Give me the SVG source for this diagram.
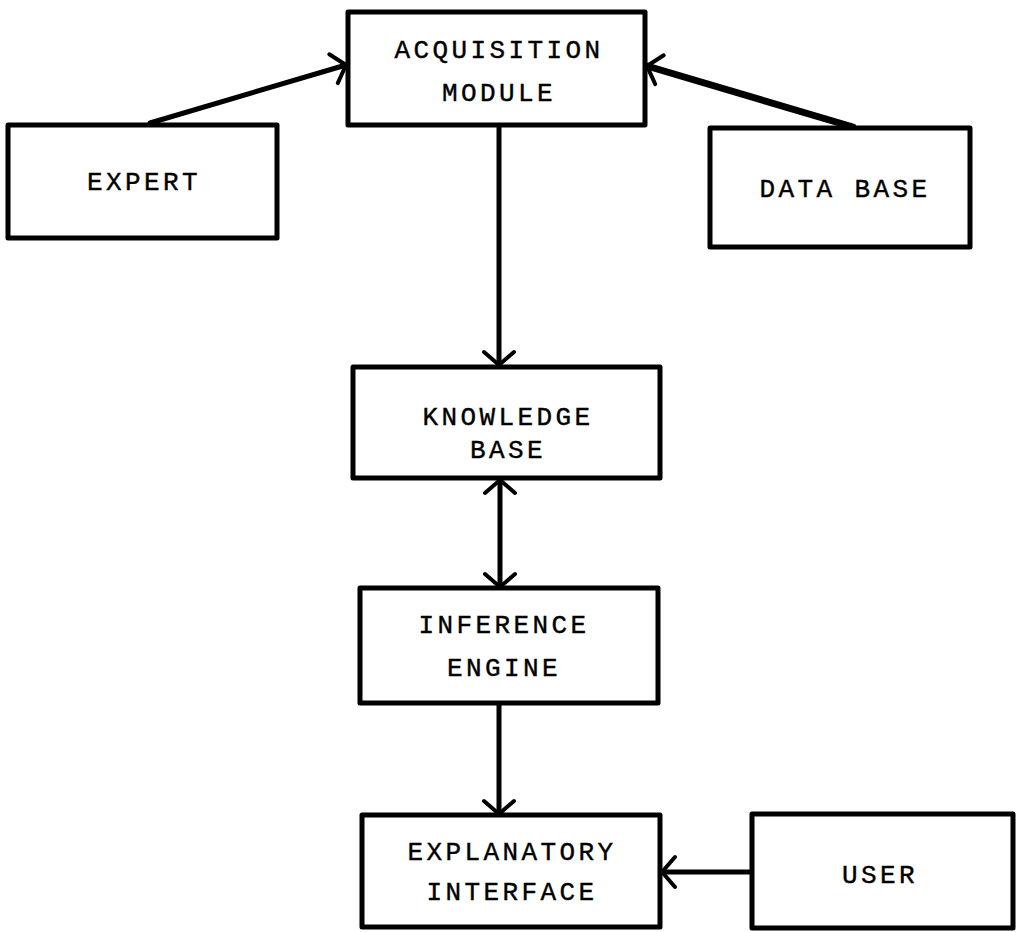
<svg xmlns="http://www.w3.org/2000/svg" width="1016" height="932" viewBox="0 0 1016 932">
<defs>
<style>
.box{fill:#fff;stroke:#000;stroke-width:5;stroke-linejoin:round}
.lbl{font-family:"Liberation Mono","Courier New",monospace;font-size:26px;letter-spacing:3.4px;text-anchor:middle;fill:#000;stroke:#000;stroke-width:0.4}
.con{stroke:#000;stroke-width:5;fill:none;stroke-linecap:round}
</style>
<marker id="ah" viewBox="-18 -18 22 36" refX="0" refY="0" markerWidth="22" markerHeight="36" markerUnits="userSpaceOnUse" orient="auto-start-reverse">
<path d="M-13,-15 L0,0 L-13,15" fill="none" stroke="#000" stroke-width="4" stroke-linecap="round" stroke-linejoin="round"/>
</marker>
</defs>
<rect width="1016" height="932" fill="#fff"/>
<g id="connectors">
<line class="con" x1="150" y1="123" x2="346" y2="65" marker-end="url(#ah)"/>
<line class="con" style="stroke-width:7" x1="853" y1="127" x2="647" y2="66" marker-end="url(#ah)"/>
<line class="con" x1="499" y1="125" x2="499" y2="365" marker-end="url(#ah)"/>
<line class="con" x1="500" y1="480" x2="500" y2="587" marker-start="url(#ah)" marker-end="url(#ah)"/>
<line class="con" x1="499" y1="703" x2="499" y2="814" marker-end="url(#ah)"/>
<line class="con" x1="752" y1="872" x2="662" y2="872" marker-end="url(#ah)"/>
</g>
<g id="acquisition-module">
<rect class="box" x="348" y="12" width="297" height="113"/>
<text class="lbl" x="499" y="58">ACQUISITION</text>
<text class="lbl" x="499" y="101">MODULE</text>
</g>
<g id="expert">
<rect class="box" x="8" y="125" width="269" height="113"/>
<text class="lbl" x="144" y="190">EXPERT</text>
</g>
<g id="data-base">
<rect class="box" x="710" y="128" width="260" height="119"/>
<text class="lbl" x="845" y="197">DATA BASE</text>
</g>
<g id="knowledge-base">
<rect class="box" x="353" y="367" width="307" height="111"/>
<text class="lbl" x="508" y="425">KNOWLEDGE</text>
<text class="lbl" x="508" y="458">BASE</text>
</g>
<g id="inference-engine">
<rect class="box" x="360" y="588" width="298" height="115"/>
<text class="lbl" x="504" y="633">INFERENCE</text>
<text class="lbl" x="504" y="676">ENGINE</text>
</g>
<g id="explanatory-interface">
<rect class="box" x="362" y="815" width="298" height="112"/>
<text class="lbl" x="512" y="860">EXPLANATORY</text>
<text class="lbl" x="512" y="900">INTERFACE</text>
</g>
<g id="user">
<rect class="box" x="752" y="814" width="261" height="114"/>
<text class="lbl" x="880" y="883">USER</text>
</g>
</svg>
